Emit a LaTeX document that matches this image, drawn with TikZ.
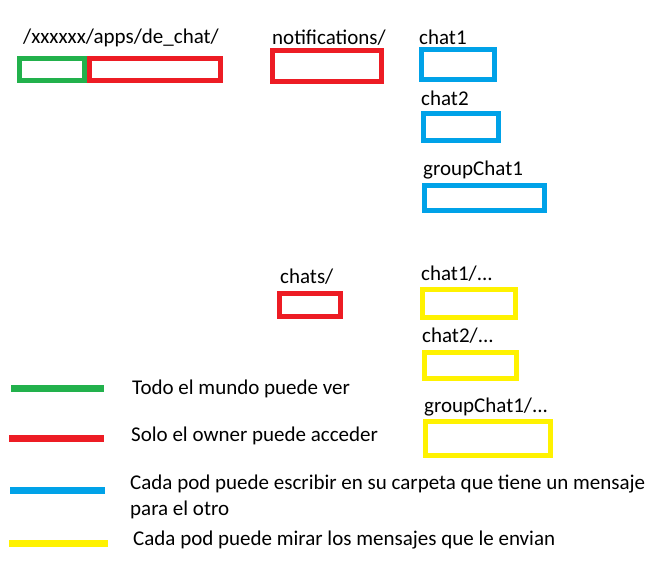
\documentclass[tikz,border=0pt]{standalone}
\usepackage{fontspec}
\setmainfont{Carlito}
\definecolor{pgreen}{HTML}{22B14C}
\definecolor{pred}{HTML}{ED1C24}
\definecolor{pblue}{HTML}{00A2E8}
\definecolor{pyellow}{HTML}{FFF200}
\tikzset{
  lbl/.style={anchor=base west, inner sep=0pt, font=\fontsize{21}{25}\selectfont},
  folder/.style={draw=#1, line width=5pt},
  legline/.style={draw=#1, line width=7pt},
}
\begin{document}
\begin{tikzpicture}[x=1pt,y=-1pt]
\useasboundingbox (0,0) rectangle (668,569);
% labels
\node[lbl] (tRoot) at (23,44) {/xxxxxx/apps/de\_chat/};
\node[lbl] (tNotif) at (272,45) {notifications/};
\node[lbl] (tC1) at (419,45) {chat1};
\node[lbl] (tC2) at (421,106) {chat2};
\node[lbl] (tG1) at (423,176) {groupChat1};
\node[lbl] (tChats) at (280,283) {chats/};
\node[lbl] (tCC1) at (421,280) {chat1/...};
\node[lbl] (tCC2) at (422,342) {chat2/...};
\node[lbl] (tCG1) at (424,412) {groupChat1/...};
% boxes
\draw[folder=pgreen] (19.5,58.5) rectangle (84.5,80.5);
\draw[folder=pred] (89.5,58.5) rectangle (220.5,80.5);
\draw[folder=pred] (272.5,50.5) rectangle (381.5,81.5);
\draw[folder=pblue] (421.5,49.5) rectangle (494.5,79.5);
\draw[folder=pblue] (423.5,113.5) rectangle (498.5,140.5);
\draw[folder=pblue] (424.5,185.5) rectangle (544.5,210.5);
\draw[folder=pred] (279.5,293.5) rectangle (340.5,316.5);
\draw[folder=pyellow] (422.5,289.5) rectangle (515.5,317.5);
\draw[folder=pyellow] (424.5,352.5) rectangle (516.5,378.5);
\draw[folder=pyellow] (425.5,421.5) rectangle (550.5,455.5);
% legend
\draw[legline=pgreen] (11,388) -- (104,388);
\draw[legline=pred] (9,438.5) -- (104,438.5);
\draw[legline=pblue] (10,490) -- (105,490);
\draw[legline=pyellow] (9,543) -- (108,543);
\node[lbl] (l1) at (132,394) {Todo el mundo puede ver};
\node[lbl] (l2) at (131,441) {Solo el owner puede acceder};
\node[lbl] (l3) at (130,489) {Cada pod puede escribir en su carpeta que tiene un mensaje};
\node[lbl] (l3b) at (130,515) {para el otro};
\node[lbl] (l4) at (133,545) {Cada pod puede mirar los mensajes que le envian};
\end{tikzpicture}
\end{document}
